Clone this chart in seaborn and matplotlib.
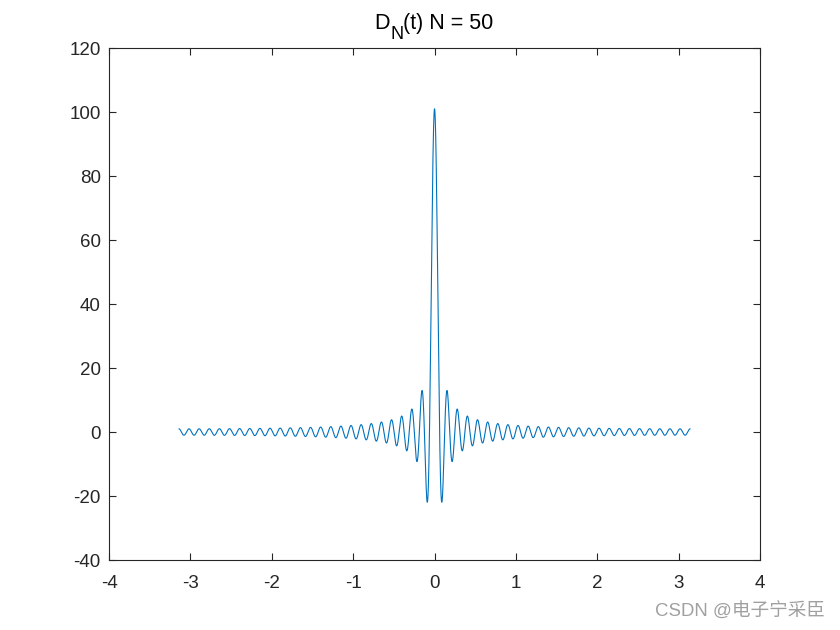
import numpy as np
import pandas as pd
import matplotlib
matplotlib.use("Agg")
import matplotlib.pyplot as plt
import seaborn as sns

# Chart parameters
N = 50
t_start, t_stop, t_step = -np.pi, np.pi, 0.001
x_ticks = [-4, -3, -2, -1, 0, 1, 2, 3, 4]
y_ticks = [-40, -20, 0, 20, 40, 60, 80, 100, 120]
title_main = "D"
title_sub = "N"
title_rest = "(t) N = 50"
watermark = "CSDN @电子宁采臣"

t = np.arange(t_start, t_stop + t_step / 2, t_step)
s = np.sin(t / 2)
with np.errstate(divide="ignore", invalid="ignore"):
    d = np.where(np.abs(s) < 1e-12, 2 * N + 1, np.sin((N + 0.5) * t) / s)
df = pd.DataFrame({"t": t, "D": d})

sns.set_theme(style="white")
plt.rcParams["font.family"] = ["Liberation Sans", "Noto Sans CJK SC", "DejaVu Sans"]

W, H = 840, 630
fig = plt.figure(figsize=(8.4, 6.3), dpi=100)
ax = fig.add_axes([0.1298, 0.1111, 0.7750, 0.8127])
sns.lineplot(data=df, x="t", y="D", ax=ax, color="#0072BD", linewidth=0.8,
             sort=False, estimator=None)
ax.set_xlim(-4, 4)
ax.set_ylim(-40, 120)
ax.set_xticks(x_ticks)
ax.set_yticks(y_ticks)
ax.set_xticklabels([str(v) for v in x_ticks])
ax.set_yticklabels([str(v) for v in y_ticks])
ax.set_xlabel("")
ax.set_ylabel("")
for sp in ax.spines.values():
    sp.set_visible(True)
    sp.set_color("#262626")
    sp.set_linewidth(0.8)
ax.tick_params(direction="in", length=5, width=0.8, colors="#262626",
               labelsize=13.5, top=True, right=True, labeltop=False, labelright=False,
               bottom=True, left=True)
ax.tick_params(axis="x", pad=11)
ax.tick_params(axis="y", pad=6)
for lab in ax.get_xticklabels() + ax.get_yticklabels():
    lab.set_color("#262626")

# Title composed as main text + lowered subscript
fs, sub_fs = 15.5, 13
t1 = fig.text(0, 0, title_main, fontsize=fs, va="baseline", color="black")
t2 = fig.text(0, 0, title_sub, fontsize=sub_fs, va="baseline", color="black")
t3 = fig.text(0, 0, title_rest, fontsize=fs, va="baseline", color="black")
renderer = fig.canvas.get_renderer()
w1 = t1.get_window_extent(renderer).width
w2 = t2.get_window_extent(renderer).width
w3 = t3.get_window_extent(renderer).width
cx, base = 434, 601
x0 = cx - (w1 + w2 + w3) / 2
t1.set_position((x0 / W, base / H))
t2.set_position(((x0 + w1) / W, (base - 10) / H))
t3.set_position(((x0 + w1 + w2) / W, base / H))

fig.text(0.982, 0.016, watermark, ha="right", va="bottom", fontsize=13.4,
         color="#a0a0a0")
fig.savefig("out.png", dpi=100)
